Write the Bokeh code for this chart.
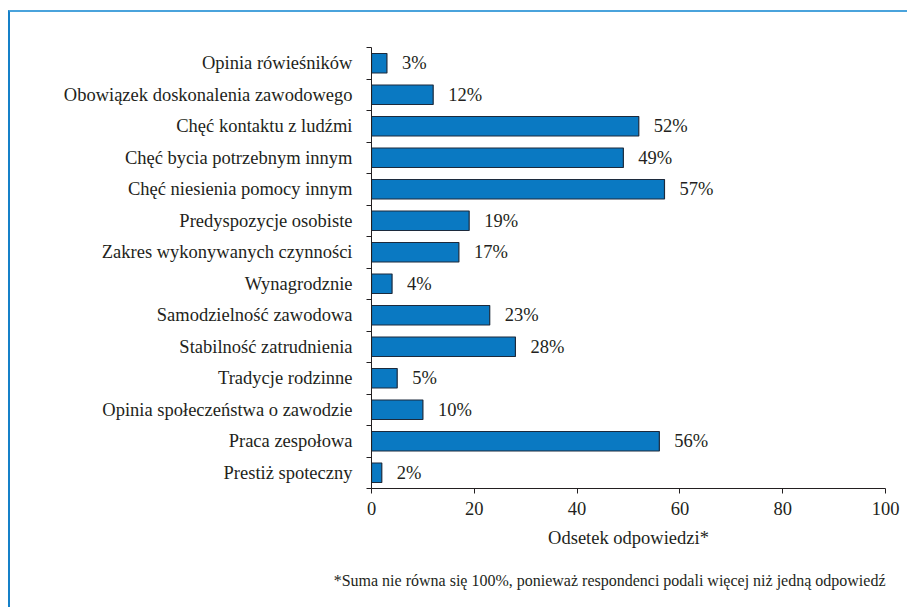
from bokeh.plotting import figure
from bokeh.models import ColumnDataSource, FixedTicker, LabelSet, Title
from bokeh.embed import file_html
from bokeh.resources import INLINE

categories = [
    "Opinia rówieśników",
    "Obowiązek doskonalenia zawodowego",
    "Chęć kontaktu z ludźmi",
    "Chęć bycia potrzebnym innym",
    "Chęć niesienia pomocy innym",
    "Predyspozycje osobiste",
    "Zakres wykonywanych czynności",
    "Wynagrodznie",
    "Samodzielność zawodowa",
    "Stabilność zatrudnienia",
    "Tradycje rodzinne",
    "Opinia społeczeństwa o zawodzie",
    "Praca zespołowa",
    "Prestiż spoteczny",
]
values = [3, 12, 52, 49, 57, 19, 17, 4, 23, 28, 5, 10, 56, 2]
x_ticks = [0, 20, 40, 60, 80, 100]
x_label = "Odsetek odpowiedzi*"
footnote = "*Suma nie równa się 100%, ponieważ respondenci podali więcej niż jedną odpowiedź"

n = len(categories)
ypos = [n - i for i in range(n)]  # top category highest
src = ColumnDataSource(dict(
    y=ypos, v=values, cat=categories,
    lbl=[f"{v}%" for v in values],
))

FONT = "'Liberation Serif', 'Times New Roman', serif"
TXT = "#231f20"
FS = "18.5px"

p = figure(
    frame_width=514, frame_height=441,
    min_border_left=361, min_border_right=22,
    min_border_top=35, min_border_bottom=100,
    x_range=(0, 100), y_range=(0.5, n + 0.5),
    output_backend="svg", toolbar_location=None,
    background_fill_color="white", border_fill_color="white",
    outline_line_color=None,
    styles={"margin-left": "8px", "margin-top": "10px",
            "border-left": "2px solid #1580c8",
            "border-top": "2px solid #4aa3dc"},
)
p.grid.visible = False

p.hbar(y="y", right="v", left=0, height=0.62, source=src,
       fill_color="#0a79c2", line_color="#1c2a3c", line_width=1.2)

labels = LabelSet(x="v", y="y", text="lbl", source=src, x_offset=15,
                  text_baseline="middle", text_align="left",
                  text_font=FONT, text_font_size=FS, text_color=TXT)
p.add_layout(labels)

# x axis
p.xaxis.ticker = FixedTicker(ticks=x_ticks)
p.xaxis.minor_tick_line_color = None
p.xaxis.major_tick_in = 0
p.xaxis.major_tick_out = 5
p.xaxis.axis_line_color = "#231f20"
p.xaxis.major_tick_line_color = "#231f20"
p.xaxis.major_label_text_font = FONT
p.xaxis.major_label_text_font_size = FS
p.xaxis.major_label_text_color = TXT
p.xaxis.major_label_standoff = 8
p.xaxis.axis_label = x_label
p.xaxis.axis_label_text_font = FONT
p.xaxis.axis_label_text_font_size = FS
p.xaxis.axis_label_text_font_style = "normal"
p.xaxis.axis_label_text_color = TXT
p.xaxis.axis_label_standoff = 10

# y axis: labels at centres, tick marks at boundaries
boundaries = [i + 0.5 for i in range(n + 1)]
p.yaxis.ticker = FixedTicker(ticks=ypos, minor_ticks=boundaries)
p.yaxis.major_label_overrides = {y: c for y, c in zip(ypos, categories)}
p.yaxis.major_tick_in = 0
p.yaxis.major_tick_out = 0
p.yaxis.minor_tick_in = 0
p.yaxis.minor_tick_out = 5
p.yaxis.minor_tick_line_color = "#231f20"
p.yaxis.axis_line_color = "#231f20"
p.yaxis.major_label_text_font = FONT
p.yaxis.major_label_text_font_size = FS
p.yaxis.major_label_text_color = TXT
p.yaxis.major_label_standoff = 14

p.add_layout(Title(text=footnote, align="right", text_font=FONT,
                   text_font_size="16px", text_font_style="normal",
                   text_color=TXT, offset=0, standoff=38), "below")

open("out.html", "w").write(file_html(p, INLINE))
